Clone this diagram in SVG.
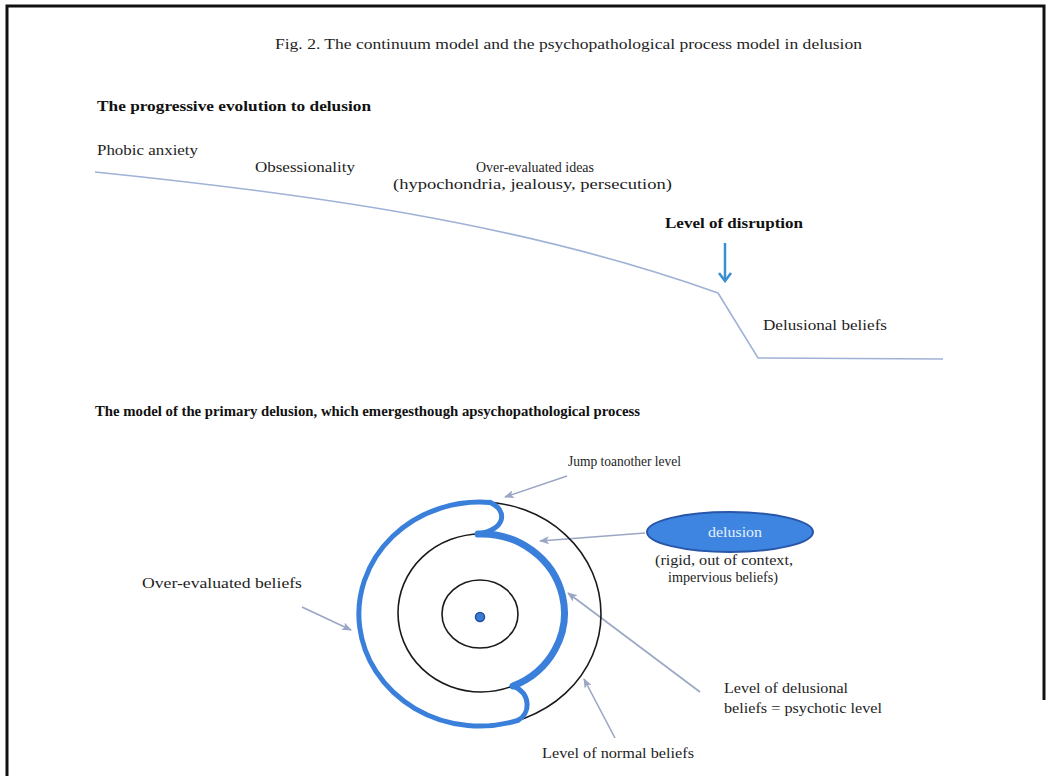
<svg xmlns="http://www.w3.org/2000/svg" width="1050" height="776" viewBox="0 0 1050 776">
<defs>
<style>
.t{font-family:"Liberation Serif","Times New Roman",serif;font-size:14.5px;fill:#1e1e1e}
.b{font-family:"Liberation Serif","Times New Roman",serif;font-size:14px;font-weight:bold;fill:#111}
.ring{fill:none;stroke:#1a1a1a;stroke-width:1.6}
.blue{fill:none;stroke:#3a80da;stroke-linecap:round}
.ptr{fill:none;stroke:#9aa6c4;stroke-width:1.6}
.curve{fill:none;stroke:#9fb2d6;stroke-width:1.6}
</style>
<marker id="ah" markerUnits="userSpaceOnUse" markerWidth="10" markerHeight="8" refX="9" refY="4" orient="auto">
<path d="M0,0 L10,4 L0,8 L2.5,4 z" fill="#9aa6c4"/>
</marker>
<marker id="bh" markerUnits="userSpaceOnUse" markerWidth="12" markerHeight="14" refX="10" refY="7" orient="auto">
<path d="M2,1 L10,7 L2,13" fill="none" stroke="#3a8fd0" stroke-width="2.5"/>
</marker>
</defs>
<rect width="1050" height="776" fill="#ffffff"/>
<path d="M7,776 L7,6 L1044,6 L1044,700" fill="none" stroke="#111" stroke-width="3"/>

<g id="title"><text class="t" x="275" y="49" textLength="587" lengthAdjust="spacingAndGlyphs" style="font-size:14px">Fig. 2. The continuum model and the psychopathological process model in delusion</text></g>

<g id="heading1"><text class="b" x="97" y="111" textLength="274" lengthAdjust="spacingAndGlyphs">The progressive evolution to delusion</text></g>

<g id="connectors">
<path class="curve" d="M95,172 C300,193 520,222 718,293 L758,358 L943,359"/>
<line x1="725" y1="243" x2="725" y2="281" stroke="#3a8fd0" stroke-width="2.5" marker-end="url(#bh)"/>
<line class="ptr" x1="567" y1="476" x2="505" y2="497" marker-end="url(#ah)"/>
<line class="ptr" x1="645" y1="533" x2="540" y2="541" marker-end="url(#ah)"/>
<line class="ptr" x1="302" y1="607" x2="351" y2="630" marker-end="url(#ah)"/>
<line class="ptr" x1="700" y1="692" x2="568" y2="593" marker-end="url(#ah)"/>
<line class="ptr" x1="615" y1="738" x2="584" y2="679" marker-end="url(#ah)"/>
</g>

<g id="phobic"><text class="t" x="97" y="155" textLength="101" lengthAdjust="spacingAndGlyphs">Phobic anxiety</text></g>
<g id="obsessionality"><text class="t" x="255" y="172" textLength="100" lengthAdjust="spacingAndGlyphs">Obsessionality</text></g>
<g id="overideas">
<text class="t" x="476" y="172" textLength="118" lengthAdjust="spacingAndGlyphs">Over-evaluated  ideas</text>
<text class="t" x="393" y="189" textLength="279" lengthAdjust="spacingAndGlyphs">(hypochondria, jealousy, persecution)</text>
</g>
<g id="disruption"><text class="b" x="665" y="228" textLength="138" lengthAdjust="spacingAndGlyphs">Level of disruption</text></g>
<g id="delbeliefs"><text class="t" x="763" y="330" textLength="124" lengthAdjust="spacingAndGlyphs">Delusional beliefs</text></g>

<g id="heading2"><text class="b" x="95" y="416" textLength="545" lengthAdjust="spacingAndGlyphs">The model of the primary delusion, which emergesthough apsychopathological process</text></g>

<g id="rings">
<ellipse class="ring" cx="480" cy="614" rx="121" ry="112"/>
<ellipse class="ring" cx="481" cy="613" rx="83" ry="79"/>
<ellipse class="ring" cx="480" cy="614" rx="38" ry="34"/>
<path class="blue" stroke-width="5" d="M490,502.4 A121,112 0 1 0 518,720.3"/>
<path class="blue" stroke-width="5" d="M518,720.3 C530,714 532,694 513,686"/>
<path class="blue" stroke-width="7" d="M513,686 A83,79 0 0 0 478,534"/>
<path class="blue" stroke-width="5" d="M478,534 C506,530 508,510 490,502.4"/>
<circle cx="480" cy="617" r="4.5" fill="#3a7bd5" stroke="#1f4fa0" stroke-width="1.5"/>
</g>

<g id="jump"><text class="t" x="568" y="466" textLength="113" lengthAdjust="spacingAndGlyphs">Jump toanother level</text></g>

<g id="delusion">
<ellipse cx="730" cy="532" rx="83" ry="20" fill="#3d85e0" stroke="#2856a8" stroke-width="2"/>
<text class="t" x="735" y="537" text-anchor="middle" style="fill:#e6f0ff" textLength="54" lengthAdjust="spacingAndGlyphs">delusion</text>
<text class="t" x="724" y="565" text-anchor="middle" textLength="138" lengthAdjust="spacingAndGlyphs">(rigid, out of context,</text>
<text class="t" x="723" y="582" text-anchor="middle" textLength="110" lengthAdjust="spacingAndGlyphs">impervious beliefs)</text>
</g>

<g id="overbeliefs"><text class="t" x="142" y="588" textLength="160" lengthAdjust="spacingAndGlyphs">Over-evaluated beliefs</text></g>

<g id="delusionallevel">
<text class="t" x="724" y="693" textLength="124" lengthAdjust="spacingAndGlyphs">Level of delusional</text>
<text class="t" x="724" y="713" textLength="158" lengthAdjust="spacingAndGlyphs">beliefs = psychotic level</text>
</g>

<g id="normallevel"><text class="t" x="542" y="758" textLength="152" lengthAdjust="spacingAndGlyphs">Level of normal beliefs</text></g>
</svg>
